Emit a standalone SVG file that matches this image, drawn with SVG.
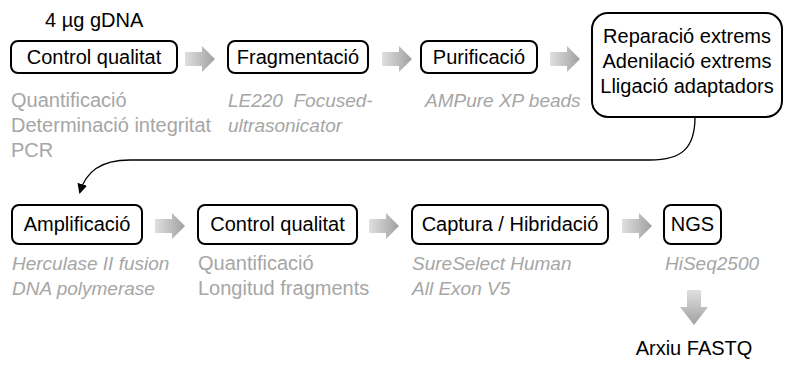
<svg xmlns="http://www.w3.org/2000/svg" width="789" height="368" viewBox="0 0 789 368">
<style>
.box{fill:#fff;stroke:#000;stroke-width:2}
.t{font-family:"Liberation Sans",Arial,sans-serif;font-size:20px;fill:#000}
.g{font-family:"Liberation Sans",Arial,sans-serif;font-size:20px;fill:#a6a6a6;white-space:pre}
.i{font-style:italic;font-size:19px}
.arr{fill:url(#gh)}
.darr{fill:url(#gv)}
.conn{fill:none;stroke:#000;stroke-width:1.3}
</style>
<defs>
<linearGradient id="gh" x1="0" y1="0" x2="1" y2="0"><stop offset="0" stop-color="#e0e0e0"/><stop offset="1" stop-color="#a0a0a0"/></linearGradient>
<linearGradient id="gv" x1="0" y1="0" x2="0" y2="1"><stop offset="0" stop-color="#e0e0e0"/><stop offset="1" stop-color="#a0a0a0"/></linearGradient>
<marker id="ah" markerWidth="10" markerHeight="10" refX="8" refY="5" orient="auto" markerUnits="userSpaceOnUse"><path d="M0,0 L10,5 L0,10 Z" fill="#000"/></marker>
<path id="ra" d="M0,-7 H17 V-13 L30,0 L17,13 V7 H0 Z"/>
</defs>
<text class="t" x="45" y="27">4 µg gDNA</text>
<g id="n1"><rect class="box" x="11" y="41" width="166" height="32" rx="7"/><text class="t" x="94" y="64" text-anchor="middle">Control qualitat</text></g>
<g id="n2"><rect class="box" x="228" y="41" width="140" height="32" rx="7"/><text class="t" x="298" y="64" text-anchor="middle">Fragmentació</text></g>
<g id="n3"><rect class="box" x="421" y="41" width="116" height="32" rx="7"/><text class="t" x="479" y="64" text-anchor="middle">Purificació</text></g>
<g id="n4"><rect class="box" x="592" y="13" width="190" height="104" rx="16"/><text class="t" x="687" y="43" text-anchor="middle">Reparació extrems</text><text class="t" x="687" y="68" text-anchor="middle">Adenilació extrems</text><text class="t" x="687" y="93" text-anchor="middle">Lligació adaptadors</text></g>
<g id="n5"><rect class="box" x="12" y="205" width="130" height="39" rx="7"/><text class="t" x="77" y="231" text-anchor="middle">Amplificació</text></g>
<g id="n6"><rect class="box" x="198" y="205" width="159" height="39" rx="7"/><text class="t" x="277.5" y="231" text-anchor="middle">Control qualitat</text></g>
<g id="n7"><rect class="box" x="412" y="205" width="196" height="39" rx="7"/><text class="t" x="510" y="231" text-anchor="middle">Captura / Hibridació</text></g>
<g id="n8"><rect class="box" x="664" y="205" width="57" height="39" rx="7"/><text class="t" x="692.5" y="231" text-anchor="middle">NGS</text></g>
<g id="labels">
<text class="g" x="11" y="107">Quantificació</text>
<text class="g" x="11" y="132">Determinació integritat</text>
<text class="g" x="11" y="157">PCR</text>
<text class="g i" x="228" y="107">LE220  Focused-</text>
<text class="g i" x="228" y="132">ultrasonicator</text>
<text class="g i" x="425" y="107">AMPure XP beads</text>
<text class="g i" x="12" y="270">Herculase II fusion</text>
<text class="g i" x="12" y="295">DNA polymerase</text>
<text class="g" x="198" y="270">Quantificació</text>
<text class="g" x="198" y="295">Longitud fragments</text>
<text class="g i" x="412" y="270">SureSelect Human</text>
<text class="g i" x="412" y="295">All Exon V5</text>
<text class="g i" x="665" y="270">HiSeq2500</text>
<text class="t" x="694" y="355" text-anchor="middle">Arxiu FASTQ</text>
</g>
<g id="connectors">
<use href="#ra" class="arr" transform="translate(185,59)"/>
<use href="#ra" class="arr" transform="translate(382,59)"/>
<use href="#ra" class="arr" transform="translate(550,59)"/>
<use href="#ra" class="arr" transform="translate(155,226)"/>
<use href="#ra" class="arr" transform="translate(369,226)"/>
<use href="#ra" class="arr" transform="translate(622,226)"/>
<path class="darr" d="M687,290 H701 V307 H708 L694,325 L680,307 H687 Z"/>
<path class="conn" marker-end="url(#ah)" d="M695,117 C695,148 682,160 650,160 L130,160 C100,160 86,172 80,192"/>
</g>
</svg>
